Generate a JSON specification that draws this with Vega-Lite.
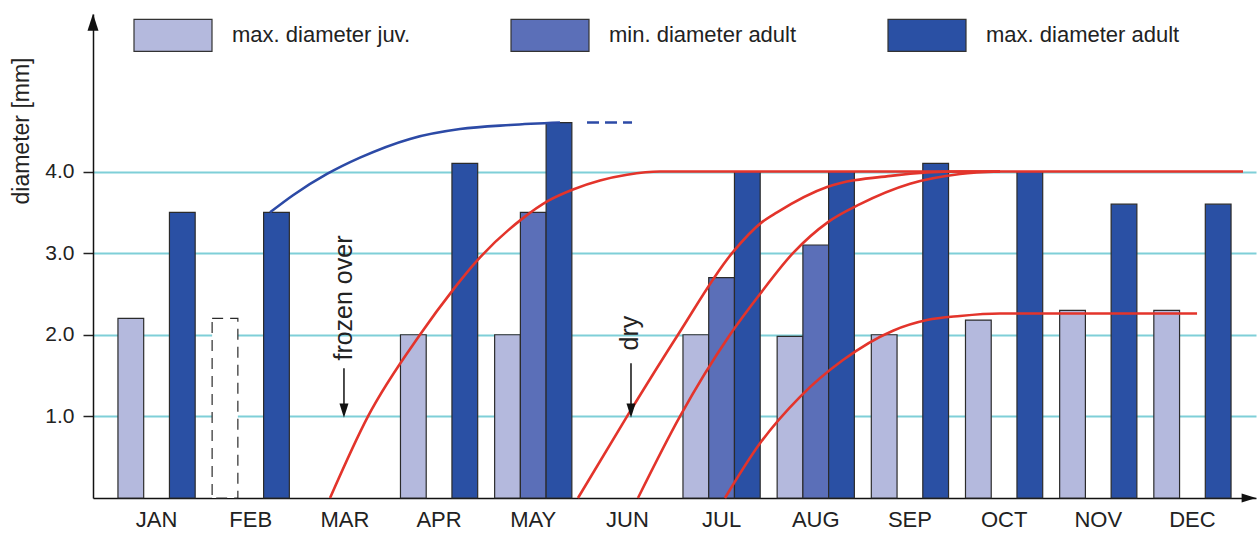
{
  "$schema": "https://vega.github.io/schema/vega-lite/v6.json",
  "width": 1163,
  "height": 484,
  "autosize": {"type": "none"},
  "padding": {"left": 93, "top": 14, "right": 2, "bottom": 35},
  "background": "white",
  "config": {"view": {"stroke": null}, "font": "Liberation Sans"},
  "datasets": {
    "bars": [
      {"month": "JAN", "series": "max. diameter juv.", "value": 2.2},
      {"month": "JAN", "series": "max. diameter adult", "value": 3.5},
      {"month": "FEB", "series": "max. diameter juv.", "value": 2.2, "estimate": true},
      {"month": "FEB", "series": "max. diameter adult", "value": 3.5},
      {"month": "APR", "series": "max. diameter juv.", "value": 2.0},
      {"month": "APR", "series": "max. diameter adult", "value": 4.1},
      {"month": "MAY", "series": "max. diameter juv.", "value": 2.0},
      {"month": "MAY", "series": "min. diameter adult", "value": 3.5},
      {"month": "MAY", "series": "max. diameter adult", "value": 4.6},
      {"month": "JUL", "series": "max. diameter juv.", "value": 2.0},
      {"month": "JUL", "series": "min. diameter adult", "value": 2.7},
      {"month": "JUL", "series": "max. diameter adult", "value": 4.0},
      {"month": "AUG", "series": "max. diameter juv.", "value": 1.98},
      {"month": "AUG", "series": "min. diameter adult", "value": 3.1},
      {"month": "AUG", "series": "max. diameter adult", "value": 4.0},
      {"month": "SEP", "series": "max. diameter juv.", "value": 2.0},
      {"month": "SEP", "series": "max. diameter adult", "value": 4.1},
      {"month": "OCT", "series": "max. diameter juv.", "value": 2.18},
      {"month": "OCT", "series": "max. diameter adult", "value": 4.0},
      {"month": "NOV", "series": "max. diameter juv.", "value": 2.3},
      {"month": "NOV", "series": "max. diameter adult", "value": 3.6},
      {"month": "DEC", "series": "max. diameter juv.", "value": 2.3},
      {"month": "DEC", "series": "max. diameter adult", "value": 3.6}
    ],
    "red": [
      {"curve": "a", "t": 1.842, "v": 0},
      {"curve": "a", "t": 2.245, "v": 1.0},
      {"curve": "a", "t": 2.797, "v": 2.0},
      {"curve": "a", "t": 3.148, "v": 2.55},
      {"curve": "a", "t": 3.413, "v": 2.92},
      {"curve": "a", "t": 3.881, "v": 3.42},
      {"curve": "a", "t": 4.157, "v": 3.64},
      {"curve": "a", "t": 4.422, "v": 3.78},
      {"curve": "a", "t": 4.709, "v": 3.89},
      {"curve": "a", "t": 4.996, "v": 3.96},
      {"curve": "a", "t": 5.346, "v": 4.0},
      {"curve": "a", "t": 5.983, "v": 4.0},
      {"curve": "a", "t": 11.537, "v": 4.0},
      {"curve": "b", "t": 4.475, "v": 0},
      {"curve": "b", "t": 4.996, "v": 1.0},
      {"curve": "b", "t": 5.537, "v": 2.0},
      {"curve": "b", "t": 6.111, "v": 3.0},
      {"curve": "b", "t": 6.429, "v": 3.38},
      {"curve": "b", "t": 6.589, "v": 3.5},
      {"curve": "b", "t": 7.12, "v": 3.81},
      {"curve": "b", "t": 7.82, "v": 3.95},
      {"curve": "b", "t": 8.532, "v": 4.0},
      {"curve": "b", "t": 8.957, "v": 4.0},
      {"curve": "c", "t": 5.112, "v": 0},
      {"curve": "c", "t": 5.558, "v": 1.0},
      {"curve": "c", "t": 6.089, "v": 2.0},
      {"curve": "c", "t": 6.408, "v": 2.5},
      {"curve": "c", "t": 6.758, "v": 3.0},
      {"curve": "c", "t": 7.13, "v": 3.38},
      {"curve": "c", "t": 7.47, "v": 3.6},
      {"curve": "c", "t": 8.001, "v": 3.85},
      {"curve": "c", "t": 8.532, "v": 3.97},
      {"curve": "c", "t": 8.957, "v": 4.0},
      {"curve": "d", "t": 6.036, "v": 0},
      {"curve": "d", "t": 6.408, "v": 0.67},
      {"curve": "d", "t": 6.833, "v": 1.24},
      {"curve": "d", "t": 7.289, "v": 1.69},
      {"curve": "d", "t": 7.82, "v": 2.05},
      {"curve": "d", "t": 8.181, "v": 2.18},
      {"curve": "d", "t": 8.532, "v": 2.23},
      {"curve": "d", "t": 8.957, "v": 2.26},
      {"curve": "d", "t": 11.049, "v": 2.26}
    ],
    "blue": [
      {"t": 1.205, "v": 3.5},
      {"t": 1.449, "v": 3.71},
      {"t": 1.81, "v": 3.97},
      {"t": 2.16, "v": 4.17},
      {"t": 2.691, "v": 4.4},
      {"t": 3.222, "v": 4.52},
      {"t": 3.753, "v": 4.57},
      {"t": 4.284, "v": 4.6}
    ],
    "blueDashed": [
      {"t": 4.571, "v": 4.6},
      {"t": 5.049, "v": 4.6}
    ],
    "notes": [
      {"label": "frozen over", "t": 1.99, "v": 2.45},
      {"label": "dry", "t": 5.03, "v": 2.02}
    ],
    "arrows": [
      {"t": 1.99, "from": 1.59, "to": 1.07},
      {"t": 5.038, "from": 1.65, "to": 1.07}
    ]
  },
  "layer": [
    {
      "data": {"name": "bars"},
      "mark": {"type": "bar", "stroke": "#2b2b2b", "strokeWidth": 1.2},
      "encoding": {
        "x": {
          "field": "month",
          "type": "nominal",
          "scale": {
            "domain": ["JAN", "FEB", "MAR", "APR", "MAY", "JUN", "JUL", "AUG", "SEP", "OCT", "NOV", "DEC"],
            "paddingInner": 0.18,
            "paddingOuter": 0.265
          },
          "axis": {
            "title": null,
            "labelAngle": 0,
            "ticks": false,
            "tickSize": 0,
            "labelFontSize": 22,
            "labelColor": "#222",
            "labelPadding": 11,
            "domainColor": "#111",
            "domainWidth": 1.5,
            "grid": false
          }
        },
        "xOffset": {
          "field": "series",
          "type": "nominal",
          "scale": {
            "domain": ["max. diameter juv.", "min. diameter adult", "max. diameter adult"],
            "paddingInner": 0,
            "paddingOuter": 0
          }
        },
        "y": {
          "field": "value",
          "type": "quantitative",
          "title": "diameter [mm]",
          "scale": {"domain": [0, 5.93], "nice": false},
          "axis": {
            "values": [1, 2, 3, 4],
            "format": ".1f",
            "grid": true,
            "gridColor": "#7fcfd8",
            "gridWidth": 2,
            "ticks": true,
            "tickSize": 10,
            "tickColor": "#222",
            "tickWidth": 1.5,
            "domainColor": "#111",
            "domainWidth": 1.5,
            "labelFontSize": 21,
            "labelColor": "#222",
            "labelPadding": 9,
            "title": "diameter [mm]",
            "titleFontSize": 23,
            "titleFontWeight": "normal",
            "titleColor": "#222",
            "titleAngle": 270,
            "titleAlign": "right",
            "titleBaseline": "middle",
            "titleX": -72,
            "titleY": 43
          }
        },
        "color": {
          "condition": {"test": "datum.estimate === true", "value": "#ffffff"},
          "field": "series",
          "type": "nominal",
          "scale": {
            "domain": ["max. diameter juv.", "min. diameter adult", "max. diameter adult"],
            "range": ["#b4b9dd", "#5b6fb8", "#2a50a4"]
          },
          "legend": {
            "title": null,
            "orient": "none",
            "legendX": 40,
            "legendY": -19,
            "direction": "horizontal",
            "columns": 3,
            "gridAlign": "all",
            "columnPadding": 82,
            "padding": 0,
            "symbolType": "M-1,-0.41H1V0.41H-1Z",
            "symbolSize": 6084,
            "symbolStrokeColor": "#333",
            "symbolStrokeWidth": 1.2,
            "symbolOpacity": 1,
            "labelFontSize": 22,
            "labelColor": "#222",
            "labelOffset": 19,
            "labelLimit": 400
          }
        },
        "strokeDash": {
          "condition": {"test": "datum.estimate === true", "value": [11, 7]},
          "value": [1, 0]
        }
      }
    },
    {
      "layer": [
        {
          "data": {"name": "red"},
          "mark": {"type": "line", "color": "#e3342b", "strokeWidth": 2.6, "interpolate": "monotone"},
          "encoding": {
            "x": {"field": "t", "type": "quantitative", "scale": {"domain": [-0.675, 11.675], "nice": false, "zero": false}, "axis": null},
            "y": {"field": "v", "type": "quantitative", "title": "diameter [mm]"},
            "detail": {"field": "curve", "type": "nominal"}
          }
        },
        {
          "data": {"name": "blue"},
          "mark": {"type": "line", "color": "#2c4aa6", "strokeWidth": 2.6, "interpolate": "monotone"},
          "encoding": {
            "x": {"field": "t", "type": "quantitative", "scale": {"domain": [-0.675, 11.675], "nice": false, "zero": false}, "axis": null},
            "y": {"field": "v", "type": "quantitative", "title": "diameter [mm]"}
          }
        },
        {
          "data": {"name": "blueDashed"},
          "mark": {"type": "line", "color": "#2c4aa6", "strokeWidth": 2.6, "strokeDash": [12, 6]},
          "encoding": {
            "x": {"field": "t", "type": "quantitative", "scale": {"domain": [-0.675, 11.675], "nice": false, "zero": false}, "axis": null},
            "y": {"field": "v", "type": "quantitative", "title": "diameter [mm]"}
          }
        },
        {
          "data": {"name": "notes"},
          "mark": {"type": "text", "angle": 270, "fontSize": 25, "color": "#222", "align": "center", "baseline": "middle"},
          "encoding": {
            "x": {"field": "t", "type": "quantitative", "scale": {"domain": [-0.675, 11.675], "nice": false, "zero": false}, "axis": null},
            "y": {"field": "v", "type": "quantitative", "title": "diameter [mm]"},
            "text": {"field": "label"}
          }
        },
        {
          "data": {"name": "arrows"},
          "mark": {"type": "rule", "color": "#111", "strokeWidth": 1.5},
          "encoding": {
            "x": {"field": "t", "type": "quantitative", "scale": {"domain": [-0.675, 11.675], "nice": false, "zero": false}, "axis": null},
            "y": {"field": "from", "type": "quantitative", "title": "diameter [mm]"},
            "y2": {"field": "to"}
          }
        },
        {
          "data": {"name": "arrows"},
          "mark": {"type": "point", "shape": "M-0.5,-0.8L0.5,-0.8L0,0.8Z", "filled": true, "opacity": 1, "size": 324, "color": "#111"},
          "encoding": {
            "x": {"field": "t", "type": "quantitative", "scale": {"domain": [-0.675, 11.675], "nice": false, "zero": false}, "axis": null},
            "y": {"field": "to", "type": "quantitative", "title": "diameter [mm]"}
          }
        },
        {
          "data": {"values": [{}]},
          "mark": {"type": "point", "shape": "M0,-1L0.55,0.7L-0.55,0.7Z", "filled": true, "opacity": 1, "size": 400, "color": "#111"},
          "encoding": {
            "x": {"datum": -0.675, "type": "quantitative", "scale": {"domain": [-0.675, 11.675], "nice": false, "zero": false}, "axis": null},
            "y": {"datum": 5.81, "type": "quantitative", "title": "diameter [mm]"}
          }
        },
        {
          "data": {"values": [{}]},
          "mark": {"type": "point", "shape": "M1,0L-0.6,-0.5L-0.6,0.5Z", "filled": true, "opacity": 1, "size": 324, "color": "#111"},
          "encoding": {
            "x": {"datum": 11.58, "type": "quantitative", "scale": {"domain": [-0.675, 11.675], "nice": false, "zero": false}, "axis": null},
            "y": {"datum": 0, "type": "quantitative", "title": "diameter [mm]"}
          }
        }
      ]
    }
  ],
  "resolve": {"scale": {"x": "independent"}}
}
